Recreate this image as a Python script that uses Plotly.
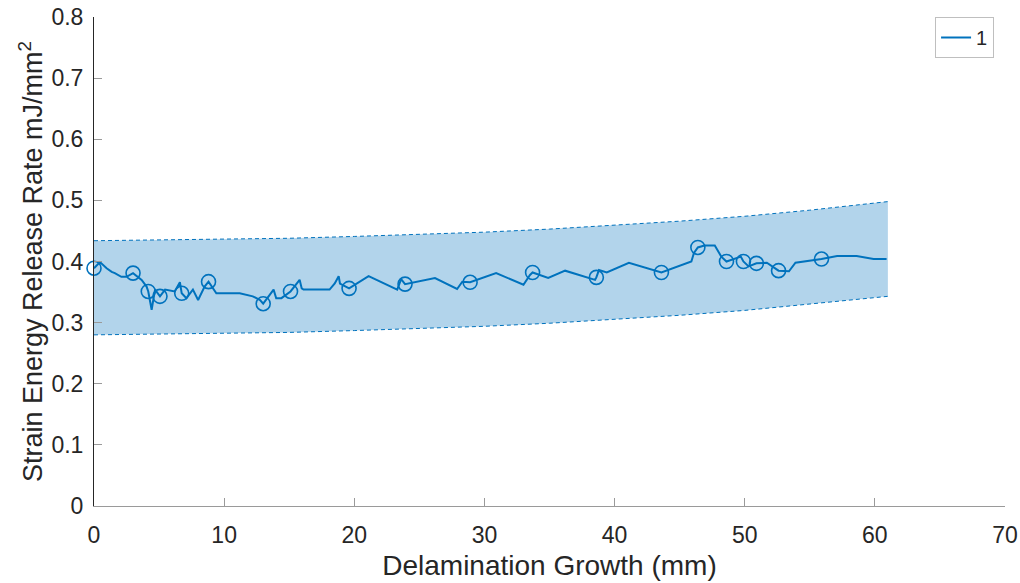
import plotly.graph_objects as go

# Band (confidence envelope)
band_x = [0, 5, 10, 15, 20, 25, 30, 35, 40, 45, 50, 55, 61]
band_upper = [0.434, 0.435, 0.436, 0.438, 0.441, 0.444, 0.448, 0.453, 0.459, 0.466, 0.474, 0.484, 0.498]
band_lower = [0.280, 0.281, 0.282, 0.284, 0.287, 0.290, 0.294, 0.299, 0.305, 0.312, 0.320, 0.330, 0.343]

# Measured curve
line_x = [0, 0.46, 0.97, 1.36, 1.6, 2.1, 2.5, 3.0, 3.66, 4.04, 4.17, 4.43, 4.69, 5.07, 5.46, 6.2, 6.6,
          6.74, 7.1, 7.6, 8.0, 8.5, 8.8, 9.4, 11.2, 12.2, 12.76, 13.0, 13.8, 14.0, 14.4, 15.1, 15.8,
          15.96, 16.1, 18.1, 18.5, 18.8, 18.9, 19.6, 21.1, 23.3, 23.6, 23.9, 26.2, 27.9, 28.3, 28.9,
          30.9, 33.0, 33.5, 33.7, 34.9, 36.2, 38.5, 38.6, 38.8, 39.4, 41.1, 43.6, 45.9, 46.1, 46.4,
          46.9, 47.7, 48.2, 48.6, 49.7, 49.9, 50.3, 50.9, 51.7, 52.6, 53.4, 53.9, 55.9, 57.1, 58.6,
          59.9, 60.9]
line_y = [0.389, 0.399, 0.389, 0.383, 0.381, 0.375, 0.375, 0.381, 0.370, 0.359, 0.351, 0.321, 0.354, 0.343, 0.354, 0.351, 0.366,
          0.348, 0.340, 0.354, 0.337, 0.359, 0.367, 0.348, 0.348, 0.343, 0.337, 0.331, 0.354, 0.340, 0.340, 0.351, 0.370,
          0.356, 0.354, 0.354, 0.364, 0.376, 0.364, 0.356, 0.376, 0.354, 0.371, 0.363, 0.373, 0.355, 0.367, 0.366,
          0.381, 0.362, 0.378, 0.382, 0.373, 0.385, 0.370, 0.374, 0.386, 0.382, 0.398, 0.382, 0.400, 0.414, 0.423,
          0.426, 0.426, 0.408, 0.400, 0.408, 0.400, 0.392, 0.397, 0.398, 0.385, 0.384, 0.398, 0.404, 0.409, 0.409,
          0.404, 0.404]

# Circle markers
mark_x = [0, 3.0, 4.17, 5.07, 6.74, 8.8, 13.0, 15.1, 19.6, 23.9, 28.9, 33.7, 38.6, 43.6, 46.4, 48.6, 49.9, 50.9, 52.6, 55.9]
mark_y = [0.389, 0.381, 0.351, 0.343, 0.348, 0.367, 0.331, 0.351, 0.356, 0.363, 0.366, 0.382, 0.374, 0.382, 0.423, 0.400, 0.400, 0.397, 0.385, 0.404]

x_ticks = [0, 10, 20, 30, 40, 50, 60, 70]
y_ticks = [0, 0.1, 0.2, 0.3, 0.4, 0.5, 0.6, 0.7, 0.8]
y_ticklabels = ["0", "0.1", "0.2", "0.3", "0.4", "0.5", "0.6", "0.7", "0.8"]

blue = "rgb(0,114,189)"
font = "Liberation Sans, Arial, sans-serif"

fig = go.Figure()
fig.add_trace(go.Scatter(x=band_x, y=band_lower, mode="lines", line=dict(color=blue, width=1, dash="4px,3px"),
                         showlegend=False, hoverinfo="skip"))
fig.add_trace(go.Scatter(x=band_x, y=band_upper, mode="lines", line=dict(color=blue, width=1, dash="4px,3px"),
                         fill="tonexty", fillcolor="rgba(0,114,189,0.3)", showlegend=False, hoverinfo="skip"))
fig.add_trace(go.Scatter(x=line_x, y=line_y, mode="lines", line=dict(color=blue, width=2), name="1",
                         cliponaxis=False))
fig.add_trace(go.Scatter(x=mark_x, y=mark_y, mode="markers", cliponaxis=False,
                         marker=dict(symbol="circle-open", size=14, color=blue, line=dict(width=1.6, color=blue)),
                         showlegend=False))

fig.update_layout(
    width=1020, height=583,
    margin=dict(l=94, r=15, t=17, b=77),
    plot_bgcolor="white", paper_bgcolor="white",
    font=dict(family=font, color="#262626", size=22),
    legend=dict(x=0.988, y=1.0, xanchor="right", yanchor="top", bgcolor="white",
                bordercolor="#bfbfbf", borderwidth=1, font=dict(size=20, color="#262626"),
                itemwidth=30, tracegroupgap=0),
    xaxis=dict(range=[0, 70], tickvals=x_ticks, ticks="inside", ticklen=8, tickcolor="#9a9a9a",
               showline=True, linecolor="#9a9a9a", linewidth=1, showgrid=False, zeroline=False,
               tickfont=dict(size=23), ticklabelstandoff=8, automargin=False,
               title=dict(text="Delamination Growth (mm)", font=dict(size=28), standoff=8)),
    yaxis=dict(range=[0, 0.8], tickvals=y_ticks, ticktext=y_ticklabels, ticks="inside", ticklen=8,
               tickcolor="#9a9a9a", showline=True, linecolor="#262626", linewidth=1, showgrid=False,
               zeroline=False, tickfont=dict(size=23), ticklabelstandoff=5, automargin=False,
               title=dict(text="Strain Energy Release Rate mJ/mm<sup>2</sup>", font=dict(size=27), standoff=0)),
)

fig.write_html("out.html")
